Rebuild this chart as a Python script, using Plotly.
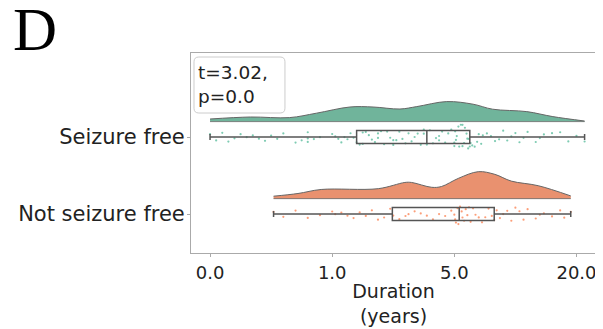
import numpy as np
import plotly.graph_objects as go

# ---------------- data ----------------
groups = ["Not seizure free", "Seizure free"]
group_colors = ["#fc8d62", "#66c2a5"]
violin_colors = ["#e9916f", "#70b49b"]

# individual durations (years)
sf_durations = [0.0, 0.05, 0.1, 0.15, 0.2, 0.25, 0.3, 0.35, 0.4, 0.45, 0.5, 0.55, 0.6, 0.7,
                0.75, 0.8, 0.8, 0.8, 0.85, 0.9, 1.0, 1.1, 1.2, 1.3, 1.4, 1.5, 1.6, 1.7,
                1.8, 1.9, 2.0, 2.0, 2.1, 2.2, 2.3, 2.4, 2.5, 2.5, 2.6, 2.7, 2.8, 2.9, 3.0,
                3.0, 3.1, 3.2, 3.3, 3.4, 3.5, 3.6, 3.7, 3.8, 3.9, 4.0, 4.0,
                4.1, 4.2, 4.3, 4.4, 4.5, 4.5, 4.6, 4.7, 4.8, 4.9, 5.0, 5.0, 5.1, 5.2, 5.3,
                5.5, 5.6, 5.8, 6.0, 6.0, 6.2, 6.3, 6.5, 6.6, 6.7, 6.8, 6.9,
                7.0, 7.2, 7.5, 7.8, 8.0, 8.3, 8.5, 9.0, 9.5, 10.0, 10.5, 11.0, 11.5, 12.0,
                12.5, 13.0, 13.5, 14.0, 15.0, 15.5, 16.0, 17.0, 18.0, 19.0, 20.0, 21.0]
nsf_durations = [0.52, 0.6, 0.7, 0.8, 0.9, 1.0, 1.1, 1.3, 1.5, 1.7, 1.9, 2.1, 2.3, 2.5, 2.7, 2.9,
                 3.0, 3.2, 3.4, 3.5, 3.7, 3.9, 4.1, 4.3, 4.5, 4.7, 4.9, 5.0, 5.1, 5.2, 5.4, 5.5,
                 5.7, 5.9, 6.0, 6.2, 6.4, 6.6, 6.8, 7.0, 7.3, 7.6, 8.0, 8.4, 8.8, 9.2, 9.6, 9.9,
                 10.2, 10.6, 11.0, 11.5, 12.0, 12.5, 13.0, 13.5, 14.0, 15.0, 15.5, 16.0, 17.0,
                 18.0, 18.5, 19.3]

# box statistics (years): lower whisker, q1, median, q3, upper whisker
sf_box = [0.0, 1.8, 4.1, 6.9, 21.0]
nsf_box = [0.52, 2.97, 5.6, 9.9, 19.3]

# density curves (years, relative density)
sf_kde_years = [0.0, 0.33, 0.65, 0.87, 1.58, 2.34, 3.22, 3.77, 4.75, 7.3, 9.7, 13.9, 17.1, 21.0]
sf_kde_dens = [0.13, 0.23, 0.20, 0.42, 0.73, 0.73, 0.63, 0.75, 1.0, 0.87, 0.62, 0.50, 0.25, 0.03]
nsf_kde_years = [0.52, 0.72, 0.91, 2.51, 3.38, 3.6, 4.26, 4.58, 5.48, 7.94, 9.98, 12.0, 15.3, 19.3]
nsf_kde_dens = [0.09, 0.19, 0.34, 0.37, 0.60, 0.60, 0.42, 0.45, 0.75, 1.0, 0.90, 0.65, 0.48, 0.10]

tick_years = [0, 1, 5, 20]
stat_text = "t=3.02,<br>p=0.0"

# ---------------- scale ----------------
def to_axis(v):
    v = np.asarray(v, dtype=float)
    return np.where(v <= 1, v, np.where(v <= 5, 1 + (v - 1) / 4, 2 + (v - 5) / 15))

FONT = "DejaVu Sans"
fig = go.Figure()

rows = [
    (0, nsf_durations, nsf_box, nsf_kde_years, nsf_kde_dens, 0.35),
    (1, sf_durations, sf_box, sf_kde_years, sf_kde_dens, 0.26),
]
for pos, vals, box, ky, kd, h in rows:
    base = pos + 0.2
    kx = to_axis(ky)
    fig.add_trace(go.Scatter(x=kx, y=[base] * len(kx), mode="lines",
                             line=dict(color="#666", width=0.8), hoverinfo="skip",
                             showlegend=False))
    fig.add_trace(go.Scatter(x=kx, y=base + np.array(kd) * h, mode="lines",
                             line=dict(color="#666", width=1, shape="spline", smoothing=1.0),
                             fill="tonexty", fillcolor=violin_colors[pos],
                             hoverinfo="skip", showlegend=False))
    # jittered points
    fig.add_trace(go.Box(x=to_axis(vals), y0=pos, orientation="h", width=0.32,
                         boxpoints="all", jitter=1, pointpos=0,
                         marker=dict(color=group_colors[pos], size=2.2, opacity=0.85),
                         line=dict(color="rgba(0,0,0,0)", width=0),
                         fillcolor="rgba(0,0,0,0)", showlegend=False, hoverinfo="skip"))
    bx = to_axis(box)
    fig.add_trace(go.Box(y=[pos], lowerfence=[bx[0]], q1=[bx[1]], median=[bx[2]],
                         q3=[bx[3]], upperfence=[bx[4]], orientation="h", width=0.17,
                         whiskerwidth=0.45, fillcolor="rgba(255,255,255,0)",
                         line=dict(color="#555", width=1.5), boxpoints=False,
                         showlegend=False))

# rounded box for stats text
x0, x1, y0, y1, rx, ry = 0.0074, 0.232, 0.70, 0.98, 0.012, 0.024
path = (f"M {x0+rx},{y0} L {x1-rx},{y0} Q {x1},{y0} {x1},{y0+ry} L {x1},{y1-ry} "
        f"Q {x1},{y1} {x1-rx},{y1} L {x0+rx},{y1} Q {x0},{y1} {x0},{y1-ry} "
        f"L {x0},{y0+ry} Q {x0},{y0} {x0+rx},{y0} Z")
fig.add_shape(type="path", path=path, xref="paper", yref="paper",
              line=dict(color="#cccccc", width=1), fillcolor="rgba(255,255,255,0.8)")
fig.add_annotation(text=stat_text, xref="paper", yref="paper", x=0.012, y=0.845,
                   xanchor="left", yanchor="middle", align="left", showarrow=False,
                   font=dict(family=FONT, size=18.5, color="#222"))
fig.add_annotation(text="D", xref="paper", yref="paper", x=-0.445, y=1.118,
                   xanchor="left", yanchor="middle", showarrow=False,
                   font=dict(family="Liberation Serif", size=61, color="#000"))

fig.update_layout(
    width=595, height=321, margin=dict(l=183, r=7, t=45, b=76, autoexpand=False),
    paper_bgcolor="white", plot_bgcolor="white", boxmode="overlay",
    font=dict(family=FONT, color="#222"),
    xaxis=dict(range=[-0.156, 3.16], tickvals=to_axis(tick_years).tolist(),
               ticktext=[f"{v:.1f}" for v in tick_years], tickfont=dict(size=18),
               showline=True, mirror=True, linecolor="#aaaaaa", linewidth=1,
               ticks="outside", ticklen=3, tickcolor="#aaaaaa", showgrid=False,
               zeroline=False, automargin=False, ticklabelstandoff=0,
               title=dict(text="Duration<br>(years)", font=dict(size=19), standoff=3)),
    yaxis=dict(range=[-0.506, 2.091], tickvals=[0, 1], ticktext=groups,
               tickfont=dict(size=21), showline=True, mirror=True,
               linecolor="#aaaaaa", linewidth=1, ticks="outside", ticklen=3,
               tickcolor="#aaaaaa", showgrid=False, zeroline=False, automargin=False,
               ticklabelstandoff=-2),
)
fig.write_html("out.html")
